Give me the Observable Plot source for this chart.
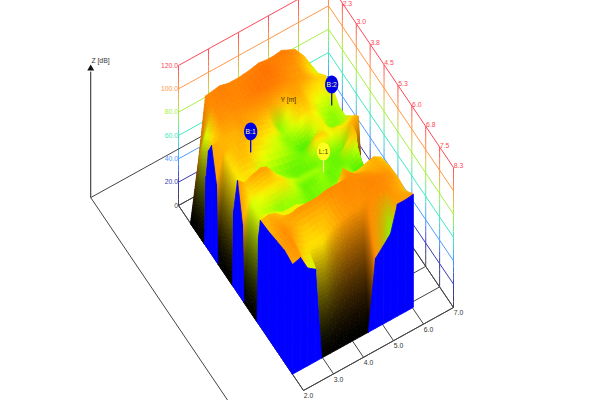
<!DOCTYPE html>
<html><head><meta charset="utf-8">
<style>html,body{margin:0;padding:0;background:#fff}</style>
<script src="https://cdn.jsdelivr.net/npm/d3@7"></script>
<script src="https://cdn.jsdelivr.net/npm/@observablehq/plot@0.6"></script>
</head><body><div id="chart"></div>
<script>
const xValues=[2.0,2.27,2.5,2.77,2.97,3.27,3.6,3.93,4.27,4.53,4.77,5.03,5.27,5.5,5.77,6.03];
const yValues=[2.148,2.526,2.904,2.985,3.12,3.282,3.552,3.633,3.984,4.416,4.47,4.686,4.956,5.037,5.388,5.739,5.82,5.928,6.36,6.792,7.224,7.656];
const zRows=[
[0,50,102,103,104,102,102,103,105,104,104,105,102,99,90,78],
[0,80,100,102,103,102,104,106,108,106,103,100,98,92,86,80],
[0,86,98,98,100,100,104,106,104,102,100,97,96,92,88,87],
[60,88,96,96,98,100,102,102,100,96,96,96,92,88,86,87],
[85,90,94,94,98,96,96,98,92,90,96,94,88,86,84,87],
[93,92,92,92,96,94,92,88,74,84,92,92,86,82,80,86],
[66,92,90,92,92,88,86,84,76,80,86,88,84,78,76,80],
[0,88,90,92,90,88,84,80,74,78,82,86,82,78,74,78],
[0,86,90,90,86,82,80,78,74,70,70,80,84,74,74,78],
[0,84,86,84,78,76,74,72,72,74,88,88,82,86,84,88],
[65,84,86,86,80,76,74,72,72,74,84,84,78,84,86,90],
[96,90,94,96,94,84,76,72,72,72,74,72,72,72,92,94],
[65,84,86,88,88,86,80,76,76,76,74,72,72,86,90,16],
[0,80,82,84,84,86,80,72,72,76,72,72,72,74,80,0],
[0,80,78,76,74,76,76,72,74,74,72,74,76,70,70,72],
[0,84,84,82,78,74,74,72,72,74,78,72,74,76,80,83],
[75,84,84,84,84,84,80,78,78,80,84,80,82,84,84,84],
[91,92,90,84,80,78,76,74,76,84,96,88,88,90,92,88],
[92,96,94,96,98,98,98,100,100,100,100,98,96,94,94,91],
[94,100,96,90,88,90,90,96,100,100,100,102,102,100,98,92],
[96,100,90,86,86,86,92,96,98,98,100,100,100,98,94,90],
[94,96,84,79,0,0,0,0,0,0,60,67,74,96,96,97]];
const zTicks=[0,20,40,60,80,100,120];
const zLabels=["0","20.0","40.0","60.0","80.0","100.0","120.0"];
const zColors=["#444444","#3a3ab4","#4c9cff","#44e8c0","#a8f048","#ff9848","#ff4858"];
const xTicks=[2,3,4,5,6,7];
const yTicks=[1.5,2.25,3,3.75,4.5,5.25,6,6.75,7.5,8.25];
const yLabels=["2.3","3.0","3.8","4.5","5.3","6.0","6.8","7.5","8.3"];
const surfaceZ=[50,60,66,69,76,82,86,90,94,100,108,120];
const surfaceC=["#a86000","#ff9000","#ffa000","#40f000","#a0ff00","#f0ff00","#ffe000","#ffc000","#ffa500","#ff8c00","#ff7000","#ff4000"];
const pins=[{X:2.9,Y:3.94,Z:90,t:"B:1",f:"#0000e6",s:"#0000e6",c:"#ffff80"},
{X:5.73,Y:3.73,Z:85,t:"B:2",f:"#0000e6",s:"#202060",c:"#ffff80"},
{X:4.53,Y:5.23,Z:80,t:"L:1",f:"#ffff20",s:"#f0f080",c:"#404000"}];

// oblique 3-D view: screen position of (X,Y,Z)
const P=(X,Y,Z=0)=>{const a=X-2,u=(Y-1.5)/6.75;
  return [178+30*a+125*u, 205-16.6*a+185*u-1.1667*Z];};
const zColor=d3.scaleLinear().domain(surfaceZ).range(surfaceC).clamp(true);
const levelColor=d3.scaleLinear().domain(zTicks).range(zColors);

// Gouraud-shaded surface, back to front
const cells=[];
const poly=(pts,c)=>cells.push({g:{type:"Polygon",coordinates:[[...pts,pts[0]]]},c});
const rgbOf=z=>d3.rgb(zColor(z));
for(let i=0;i<yValues.length-1;i++){
  for(let j=xValues.length-2;j>=0;j--){
    const z00=zRows[i][j],z01=zRows[i][j+1],z10=zRows[i+1][j],z11=zRows[i+1][j+1];
    const ni=Math.min(30,Math.ceil(Math.max(Math.abs(z00-z10),Math.abs(z01-z11))/3.5)+1);
    const nj=Math.min(30,Math.ceil(Math.max(Math.abs(z00-z01),Math.abs(z10-z11))/3.5)+1);
    const pt=(s,t)=>{
      const X=xValues[j]+(xValues[j+1]-xValues[j])*t, Y=yValues[i]+(yValues[i+1]-yValues[i])*s;
      const Z=(1-s)*((1-t)*z00+t*z01)+s*((1-t)*z10+t*z11);
      return P(X,Y,Z);};
    const col=(s,t)=>{
      const ws=[[(1-s)*(1-t),z00],[(1-s)*t,z01],[s*(1-t),z10],[s*t,z11]];
      let W=0,r=0,g=0,b=0;
      for(const [w,z] of ws){ if(z>=45){const c=rgbOf(z);W+=w;r+=w*c.r;g+=w*c.g;b+=w*c.b;} }
      if(W===0) return "rgb(0,0,0)";
      const k=Math.pow(W,1.5)/W;
      return `rgb(${Math.round(r*k)},${Math.round(g*k)},${Math.round(b*k)})`;};
    for(let a=0;a<ni;a++)for(let b=nj-1;b>=0;b--){
      const s0=a/ni,s1=(a+1)/ni,t0=b/nj,t1=(b+1)/nj;
      poly([pt(s0,t0),pt(s0,t1),pt(s1,t1),pt(s1,t0)],col((s0+s1)/2,(t0+t1)/2));
    }
  }
}
// blue side skirts
const skirts=[];
const skirt=(pts)=>skirts.push({g:{type:"Polygon",coordinates:[[...pts,pts[0]]]}});
for(let i=0;i<yValues.length-1;i++){const a=xValues[0],y0=yValues[i],y1=yValues[i+1];
  if(zRows[i][0]+zRows[i+1][0]>0) skirt([P(a,y0,0),P(a,y1,0),P(a,y1,zRows[i+1][0]),P(a,y0,zRows[i][0])]);}
const last=yValues.length-1;
for(let j=0;j<xValues.length-1;j++){const y=yValues[last],x0=xValues[j],x1=xValues[j+1];
  if(zRows[last][j]+zRows[last][j+1]>0) skirt([P(x0,y,0),P(x1,y,0),P(x1,y,zRows[last][j+1]),P(x0,y,zRows[last][j])]);}

// walls and floor
const gridSegs=[];
const seg=(p,q,stroke)=>gridSegs.push({x1:p[0],y1:p[1],x2:q[0],y2:q[1],stroke});
const X0=2,X1=7,Y0=1.5,Y1=8.25;
zTicks.forEach((z,k)=>{const c=zColors[k];
  seg(P(X0,Y0,z),P(X1,Y0,z),c); seg(P(X1,Y0,z),P(X1,Y1,z),c);});
const verts=[];
xTicks.forEach(x=>verts.push([x,Y0]));
yTicks.slice(1).forEach(y=>verts.push([X1,y]));
for(const [x,y] of verts){for(let z=0;z<120;z+=5)
  seg(P(x,y,z),P(x,y,z+5),levelColor(z+2.5));}
const gray="#444444";
seg(P(X0,Y1),P(X1,Y1),gray);
seg(P(X0,Y0),P(X0,Y1),gray);
xTicks.forEach(x=>seg(P(x,Y0),P(x,Y1),gray));
yTicks.forEach(y=>seg(P(X0,y),P(X1,y),gray));
seg(P(0,0),P(0,0,108),"#222222");
seg(P(0,0),P(7,0),gray);
seg(P(0,0),P(0,9.5),gray);

const zText=zTicks.map((z,k)=>{const p=P(X0,Y0,z);return {x:p[0]-0.5,y:p[1],t:zLabels[k],c:zColors[k]};});
const xText=xTicks.map(x=>{const p=P(x,Y1);return {x:p[0]+5,y:p[1]+5.5,t:x.toFixed(1)};});
const yText=yTicks.slice(1).map((y,k)=>{const p=P(X1,y,120);return {x:p[0]+5,y:Math.max(3.4,p[1]-1.5),t:yLabels[k]};});
const topZ=P(0,0,108);
const yNamePos=P(4.49,3.4,100);
const stems=pins.map(p=>{const a=P(p.X,p.Y,p.Z),b=P(p.X,p.Y,p.Z+18);return {x1:a[0],y1:a[1],x2:b[0],y2:b[1],s:p.s};});
const heads=pins.map(p=>{const b=P(p.X,p.Y,p.Z+18);return {x:b[0],y:b[1],t:p.t,f:p.f,c:p.c};});
const ellipse={draw(ctx,size){const r=Math.sqrt(size/Math.PI),rx=r*.78,ry=r*1.05,k=.5523;
  ctx.moveTo(rx,0);ctx.bezierCurveTo(rx,k*ry,k*rx,ry,0,ry);ctx.bezierCurveTo(-k*rx,ry,-rx,k*ry,-rx,0);
  ctx.bezierCurveTo(-rx,-k*ry,-k*rx,-ry,0,-ry);ctx.bezierCurveTo(k*rx,-ry,rx,-k*ry,rx,0);ctx.closePath();}};
const font="Liberation Sans";
const chart=Plot.plot({width:600,height:400,margin:0,
  x:{domain:[0,600],range:[0,600],axis:null},
  y:{domain:[0,400],range:[0,400],axis:null},
  color:{type:"identity"},
  style:{background:"#fff",fontFamily:font},
  marks:[
    Plot.link(gridSegs,{x1:"x1",y1:"y1",x2:"x2",y2:"y2",stroke:"stroke",strokeWidth:1}),
    Plot.geo(cells,{geometry:d=>d.g,fill:d=>d.c,stroke:d=>d.c,strokeWidth:.8}),
    Plot.geo(skirts,{geometry:d=>d.g,fill:"#0000ff",stroke:"#0000ff",strokeWidth:.8}),
    Plot.dot([{x:topZ[0],y:topZ[1]-3}],{x:"x",y:"y",symbol:"triangle",r:2.6,fill:"#111",stroke:"none"}),
    Plot.text(zText,{x:"x",y:"y",text:"t",fill:"c",textAnchor:"end",fontSize:6.8}),
    Plot.text(xText,{x:"x",y:"y",text:"t",fill:"#333",fontSize:6.8}),
    Plot.text(yText,{x:"x",y:"y",text:"t",fill:"#ff4858",fontSize:6.8}),
    Plot.text([{x:100,y:60,t:"Z [dB]"}],{x:"x",y:"y",text:"t",fill:"#333",fontSize:6.8}),
    Plot.text([{x:yNamePos[0],y:yNamePos[1],t:"Y [m]"}],{x:"x",y:"y",text:"t",fill:"#443300",fontSize:6.8}),
    Plot.link(stems,{x1:"x1",y1:"y1",x2:"x2",y2:"y2",stroke:"s",strokeWidth:1.3}),
    Plot.dot(heads,{x:"x",y:"y",fill:"f",r:8.5,symbol:ellipse,stroke:"none"}),
    Plot.text(heads,{x:"x",y:"y",text:"t",fill:"c",fontSize:6.8})
  ]});
document.getElementById("chart").appendChild(chart);
</script></body></html>
